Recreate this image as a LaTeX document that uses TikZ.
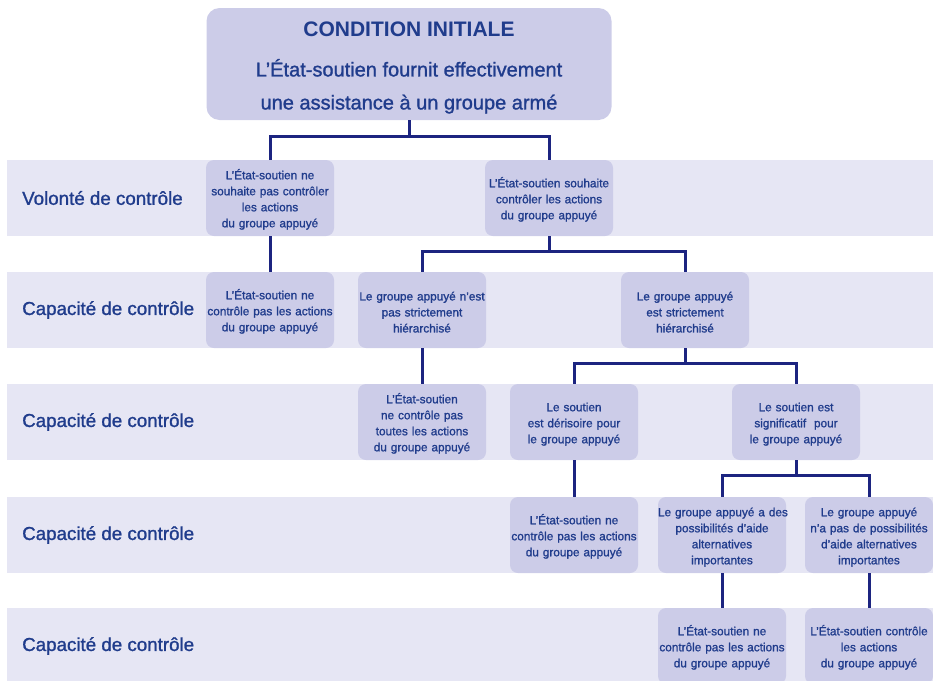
\documentclass[tikz,border=0pt]{standalone}
\usepackage{fontspec}
\setmainfont{Liberation Sans}
\newfontfamily\medfont{Liberation Sans}[FakeBold=1.2]
\usepackage{tikz}
\usetikzlibrary{positioning}

\definecolor{inktext}{RGB}{32,60,140}
\definecolor{inkline}{RGB}{28,36,128}
\definecolor{boxfill}{RGB}{204,204,232}
\definecolor{bandfill}{RGB}{230,230,244}

\hyphenpenalty=10000
\exhyphenpenalty=10000

\tikzset{
  start/.style={fill=boxfill, rounded corners=13pt, text=inktext, minimum width=405pt,
                minimum height=112pt, inner sep=0pt, align=center, font=\medfont\fontsize{20}{33}\selectfont},
  choice/.style={fill=boxfill, rounded corners=8pt, text=inktext, text width=128pt,
                 inner xsep=0pt, minimum height=76pt, align=center, font=\medfont\fontsize{11.8}{16}\selectfont,
                 execute at begin node=\rule{0pt}{13pt}},
  level/.style={anchor=west, text=inktext, inner sep=0pt, font=\medfont\fontsize{18.75}{22}\selectfont},
  band/.style={fill=bandfill},
  link/.style={draw=inkline, line width=3pt},
}

\begin{document}
\begin{tikzpicture}[x=1pt,y=-1pt]
                \useasboundingbox (0,0) rectangle (933,680);

                \fill[band] (7,160) rectangle (940,236);
                \fill[band] (7,272) rectangle (940,348);
                \fill[band] (7,384) rectangle (940,460);
                \fill[band] (7,497) rectangle (940,573);
                \fill[band] (7,608) rectangle (940,684);

                \node[level] (lvl1) at (22,198) {Volonté de contrôle};
                \node[level] (lvl2) at (22,310) {Capacité de contrôle};
                \node[level] (lvl3) at (22,422) {Capacité de contrôle};
                \node[level] (lvl4) at (22,535) {Capacité de contrôle};
                \node[level] (lvl5) at (22,646) {Capacité de contrôle};

                \node[start] (init) at (409,64)
                  {{\rmfamily\fontsize{21}{33}\selectfont\bfseries\rule{0pt}{22pt}CONDITION INITIALE}\\[7pt]
                   L’État-soutien fournit effectivement\\ une assistance à un groupe armé};

                \node[choice] (A1) at (270,198) {L’État-soutien ne\\ souhaite pas contrôler\\ les actions\\ du groupe appuyé};
                \node[choice] (A2) at (549,198) {L’État-soutien souhaite\\ contrôler les actions\\ du groupe appuyé};

                \node[choice] (B1) at (270,310) {L’État-soutien ne\\ contrôle pas les actions\\ du groupe appuyé};
                \node[choice] (B2) at (422,310) {Le groupe appuyé n’est\\ pas strictement\\ hiérarchisé};
                \node[choice] (B3) at (685,310) {Le groupe appuyé\\ est strictement\\ hiérarchisé};

                \node[choice] (C1) at (422,422) {L’État-soutien\\ ne contrôle pas\\ toutes les actions\\ du groupe appuyé};
                \node[choice] (C2) at (574,422) {Le soutien\\ est dérisoire pour\\ le groupe appuyé};
                \node[choice] (C3) at (796,422) {Le soutien est\\ significatif~ pour\\ le groupe appuyé};

                \node[choice] (D1) at (574,535) {L’État-soutien ne\\ contrôle pas les actions\\ du groupe appuyé};
                \node[choice] (D2) at (722,535) {\mbox{Le groupe appuyé a des}\\ possibilités d’aide\\ alternatives\\ importantes};
                \node[choice] (D3) at (869,535) {Le groupe appuyé\\ n’a pas de possibilités\\ d’aide alternatives\\ importantes};

                \node[choice] (E1) at (722,646) {L’État-soutien ne\\ contrôle pas les actions\\ du groupe appuyé};
                \node[choice] (E2) at (869,646) {L’État-soutien contrôle\\ les actions\\ du groupe appuyé};

                \draw[link] (init.south) -- ++(0,16) -| (A1.north);
                \draw[link] (init.south) -- ++(0,16) -| (A2.north);
                \draw[link] (A1.south) -- (B1.north);
                \draw[link] (A2.south) -- ++(0,15) -| (B2.north);
                \draw[link] (A2.south) -- ++(0,15) -| (B3.north);
                \draw[link] (B2.south) -- (C1.north);
                \draw[link] (B3.south) -- ++(0,15) -| (C2.north);
                \draw[link] (B3.south) -- ++(0,15) -| (C3.north);
                \draw[link] (C2.south) -- (D1.north);
                \draw[link] (C3.south) -- ++(0,15) -| (D2.north);
                \draw[link] (C3.south) -- ++(0,15) -| (D3.north);
                \draw[link] (D2.south) -- (E1.north);
                \draw[link] (D3.south) -- (E2.north);
\end{tikzpicture}
\end{document}
